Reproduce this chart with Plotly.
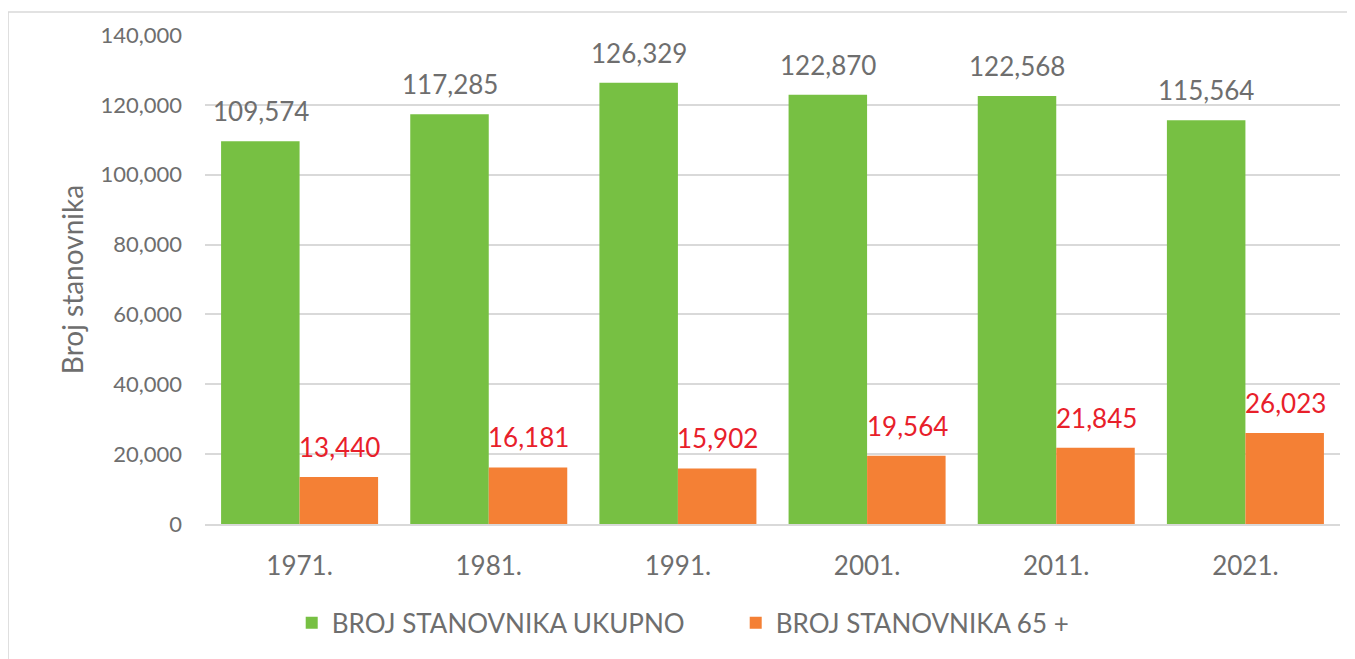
import plotly.graph_objects as go

years = ["1971.", "1981.", "1991.", "2001.", "2011.", "2021."]
ukupno = [109574, 117285, 126329, 122870, 122568, 115564]
stariji = [13440, 16181, 15902, 19564, 21845, 26023]

font_family = "Lato, 'Open Sans', sans-serif"
gray = "#6e6e6e"
red = "#E8202A"

fig = go.Figure()
fig.add_trace(go.Bar(
    x=years, y=ukupno, name="BROJ STANOVNIKA UKUPNO",
    marker=dict(color="#77C043", line=dict(width=0)),
))
fig.add_trace(go.Bar(
    x=years, y=stariji, name="BROJ STANOVNIKA 65 +",
    marker=dict(color="#F48035", line=dict(width=0)),
))

# data labels, lifted a bit higher than plotly's default outside text
# (category index as x, since "1971." would be read as a number)
annotations = []
for i, v in enumerate(ukupno):
    annotations.append(dict(x=i, y=v, text=f"{v:,}", showarrow=False, xshift=-39,
                            yanchor="bottom", yshift=12,
                            font=dict(size=26, color=gray, family=font_family)))
for i, v in enumerate(stariji):
    annotations.append(dict(x=i, y=v, text=f"{v:,}", showarrow=False, xshift=40,
                            yanchor="bottom", yshift=12,
                            font=dict(size=26, color=red, family=font_family)))

fig.update_layout(
    width=1355, height=659,
    margin=dict(l=197, r=23, t=27, b=143, autoexpand=False),
    paper_bgcolor="white", plot_bgcolor="white",
    barmode="group", bargap=0.17, bargroupgap=0,
    font=dict(family=font_family, color=gray, size=20),
    annotations=annotations,
    legend=dict(orientation="h", x=0.0764, xanchor="left", y=-0.154, yanchor="top",
                font=dict(size=26, color=gray), itemwidth=30, entrywidth=399,
                entrywidthmode="pixels"),
    yaxis=dict(range=[0, 140000], dtick=20000, tickformat=",", showgrid=True,
               gridcolor="#d9d9d9", gridwidth=1.5, zeroline=False, automargin=False,
               tickfont=dict(size=22, color=gray), ticklabelstandoff=22,
               title=dict(text="Broj stanovnika", font=dict(size=28, color=gray), standoff=8)),
    xaxis=dict(type="category", range=[-0.5, len(years) - 0.5], showline=True,
               linecolor="#d9d9d9", linewidth=1.5, automargin=False,
               tickfont=dict(size=26, color=gray), ticklabelstandoff=18),
    shapes=[dict(type="rect", xref="paper", yref="paper",
                 x0=-0.1735, x1=1.0106, y0=-0.28, y1=1.047,
                 line=dict(color="#d9d9d9", width=1.5))],
)

fig.write_html("out.html")
